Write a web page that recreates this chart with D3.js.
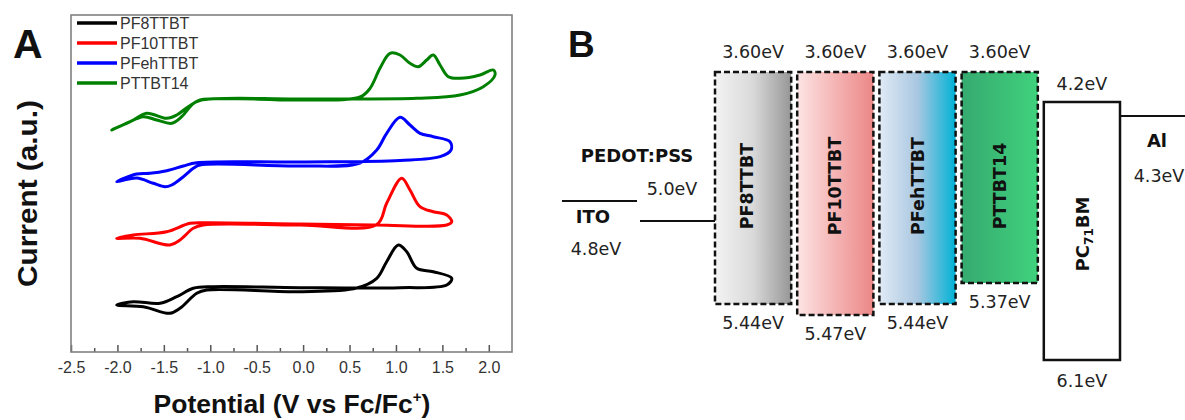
<!DOCTYPE html>
<html><head><meta charset="utf-8">
<script src="https://cdn.jsdelivr.net/npm/d3@7"></script>
<style>body{margin:0;background:#fff}svg{display:block}</style>
</head><body><svg id="c" width="1185" height="420"></svg>
<script>
// ================= Panel A data (cyclic voltammograms) =================
const seriesNames  = ["PF8TTBT", "PF10TTBT", "PFehTTBT", "PTTBT14"];
const seriesColors = ["#000000", "#ff0000", "#0000ff", "#008000"];
const xTickValues  = [-2.5, -2.0, -1.5, -1.0, -0.5, 0.0, 0.5, 1.0, 1.5, 2.0];
const xMinorTicks  = [-2.25, -1.75, -1.25, -0.75, -0.25, 0.25, 0.75, 1.25, 1.75];

// potential (V vs Fc/Fc+) and current (a.u., offset per curve)
const pf8Potential = [-2.008,-1.721,-1.434,-1.326,-1.146,-1.038,-0.033,0.577,0.793,0.900,1.025,1.116,1.224,1.402,1.601,1.547,1.044,-0.033,-0.967,-1.183,-1.361,-1.541,-1.829];
const pf8Current   = [47,45.3,38.7,43.7,58.7,62,60.3,64,73.7,90.3,107,100.3,83.7,80.3,73.7,67,64.3,64.3,65.3,63.7,55.3,48.7,50.3];

const pf10Potential = [-2.008,-1.757,-1.434,-1.326,-1.183,-1.075,-0.033,0.793,0.900,1.062,1.151,1.259,1.402,1.547,1.601,1.547,0.793,-0.033,-1.038,-1.218,-1.469,-1.829];
const pf10Current   = [113.7,113.7,107,112,123.7,127,127,127.5,148.7,173.7,162,145.3,140.3,137,130.3,127,127,128,129.3,128.7,120.3,117];

const pfehPotential = [-2.008,-1.792,-1.614,-1.488,-1.415,-1.290,-1.183,-1.111,-0.033,0.613,0.793,0.900,1.044,1.151,1.259,1.402,1.582,1.593,1.475,1.044,-0.033,-1.146,-1.290,-1.469,-1.649,-1.792];
const pfehCurrent   = [170.3,174,168.7,165.3,167,175.3,183.7,187,186,189,202,218.7,234.7,227,218.7,215.3,210.3,202,195.3,191.5,190,189.3,186,181.3,178.7,178];

const ptPotential = [-2.062,-1.900,-1.721,-1.577,-1.415,-1.308,-1.200,-1.111,-0.033,0.613,0.721,0.828,0.936,1.044,1.151,1.241,1.331,1.402,1.475,1.564,1.690,1.905,2.049,2.067,1.941,1.690,1.224,-0.033,-1.111,-1.237,-1.361,-1.469,-1.685,-1.829];
const ptCurrent   = [222,228.7,235.3,232,228.7,235.3,247,252,252,255,263.7,283.7,298.7,297,288.7,285.3,292,297,287,275.3,273.7,277,282,277,265.3,257,253.7,253,251.5,245.3,237,233.7,238.7,232];

// ================= Panel B data (energy levels, eV) =================
const bandNames   = ["PF8TTBT", "PF10TTBT", "PFehTTBT", "PTTBT14", "PC71BM"];
const lumoLevels  = [3.60, 3.60, 3.60, 3.60, 4.2];
const homoLevels  = [5.44, 5.47, 5.44, 5.37, 6.1];
const electrodeNames  = ["ITO", "PEDOT:PSS", "Al"];
const electrodeLevels = [4.8, 5.0, 4.3];
const gradientStops = [
  ["#f3f3f3", "#d9d9d9", "#979797"],
  ["#fde4e4", "#f5b4b4", "#ec8787"],
  ["#e0eaf5", "#a9c7e1", "#00b2d6"],
  ["#36aa70", "#3bbd76", "#40d27d"]
];

// ================= Drawing =================
const svg = d3.select("#c");
svg.append("rect").attr("width",1185).attr("height",420).attr("fill","#fff");

// ---------- Panel A ----------
const x = d3.scaleLinear().domain([-2.5, 2.25]).range([71, 512]);
const y = d3.scaleLinear().domain([0, 337]).range([352, 15]);
const A = svg.append("g");
const sans = "'Liberation Sans', Arial, sans-serif";

const series = [
  [pf8Potential, pf8Current],
  [pf10Potential, pf10Current],
  [pfehPotential, pfehCurrent],
  [ptPotential, ptCurrent]
];
const line = d3.line().x(d => x(d[0])).y(d => y(d[1])).curve(d3.curveCatmullRomClosed.alpha(0.5));
series.forEach((s, i) => {
  const pts = s[0].map((v, k) => [v, s[1][k]]);
  A.append("path").attr("d", line(pts)).attr("fill","none")
    .attr("stroke", seriesColors[i]).attr("stroke-width", 3)
    .attr("stroke-linejoin","round");
});

// axes
const xAxis = d3.axisBottom(x).tickValues(xTickValues).tickSizeInner(-7).tickSizeOuter(0)
  .tickPadding(10).tickFormat(d => d.toFixed(1));
const gx = A.append("g").attr("transform","translate(0,352)").call(xAxis);
gx.select(".domain").remove();
gx.selectAll(".tick line").attr("stroke","#555").attr("stroke-width",1.5);
gx.selectAll(".tick text").attr("font-family",sans).attr("font-size",16).attr("fill","#333");
const gm = A.append("g").attr("transform","translate(0,352)")
  .call(d3.axisBottom(x).tickValues(xMinorTicks).tickSizeInner(-4).tickSizeOuter(0).tickFormat(""));
gm.select(".domain").remove();
gm.selectAll(".tick line").attr("stroke","#555").attr("stroke-width",1.5);

// frame
A.append("rect").attr("x", x.range()[0]).attr("y", y.range()[1])
  .attr("width", x.range()[1]-x.range()[0]).attr("height", y.range()[0]-y.range()[1])
  .attr("fill","none").attr("stroke","#808080").attr("stroke-width",1.6);

// legend
const lg = A.append("g");
seriesNames.forEach((n, i) => {
  const yy = 23 + i*20;
  lg.append("line").attr("x1",77).attr("x2",117).attr("y1",yy).attr("y2",yy)
    .attr("stroke",seriesColors[i]).attr("stroke-width",3.5);
  lg.append("text").attr("x",120).attr("y",yy+5.5).text(n)
    .attr("font-family",sans).attr("font-size",16).attr("fill","#333");
});

// axis titles
const xt = A.append("text").attr("x",292).attr("y",413).attr("text-anchor","middle")
  .attr("font-family",sans).attr("font-weight","bold").attr("font-size",26.5).attr("fill","#111");
xt.append("tspan").text("Potential (V vs Fc/Fc");
xt.append("tspan").text("+").attr("font-size",15).attr("dy",-11);
xt.append("tspan").text(")").attr("dy",11);
A.append("text").attr("transform","translate(37,193.5) rotate(-90)").attr("text-anchor","middle")
  .attr("font-family",sans).attr("font-weight","bold").attr("font-size",27).attr("fill","#111")
  .attr("textLength",187).attr("lengthAdjust","spacingAndGlyphs")
  .text("Current (a.u.)");
A.append("text").attr("x",13).attr("y",58).text("A")
  .attr("font-family",sans).attr("font-weight","bold").attr("font-size",41).attr("fill","#111");

// ---------- Panel B ----------
const B = svg.append("g");
const dj = "'DejaVu Sans', sans-serif";
const E = d3.scaleLinear()
  .domain([3.6, 4.2, 4.3, 4.8, 5.0, 5.37, 5.44, 5.47, 6.1])
  .range([72, 102, 116, 201, 221, 283, 304, 315, 360]);
const bx = d3.scaleBand().domain(bandNames).range([715, 1120]).paddingInner(0.073).paddingOuter(0);

const defs = svg.append("defs");
gradientStops.forEach((st, i) => {
  const g = defs.append("linearGradient").attr("id","grad"+i)
    .attr("x1","0%").attr("x2","100%").attr("y1","0%").attr("y2","0%");
  st.forEach((c, k) => g.append("stop").attr("offset", (k/(st.length-1)*100)+"%").attr("stop-color", c));
});

const numFmt = (v, d) => v.toFixed(d) + "eV";
bandNames.forEach((n, i) => {
  const x0 = bx(n), w = bx.bandwidth(), cx = x0 + w/2;
  const top = E(lumoLevels[i]), bot = E(homoLevels[i]);
  const isPoly = i < 4;
  B.append("rect").attr("x",x0).attr("y",top).attr("width",w).attr("height",bot-top)
    .attr("fill", isPoly ? "url(#grad"+i+")" : "#fff")
    .attr("stroke","#111").attr("stroke-width", 2.5)
    .attr("stroke-dasharray", isPoly ? "6,3" : null);
  if (isPoly) {
    B.append("text").attr("x",cx).attr("y",top-14).attr("text-anchor","middle")
      .attr("font-family",dj).attr("font-size",17.5).attr("fill","#222").text(numFmt(lumoLevels[i],2));
    B.append("text").attr("x",cx).attr("y",bot+25).attr("text-anchor","middle")
      .attr("font-family",dj).attr("font-size",17.5).attr("fill","#222").text(numFmt(homoLevels[i],2));
    B.append("text").attr("transform",`translate(${cx+(i===0?0:6)},186) rotate(-90)`).attr("text-anchor","middle")
      .attr("font-family",dj).attr("font-weight","bold").attr("font-size",17.5).attr("fill","#111").text(n);
  } else {
    B.append("text").attr("x",cx).attr("y",top-12).attr("text-anchor","middle")
      .attr("font-family",dj).attr("font-size",17.5).attr("fill","#222").text(numFmt(lumoLevels[i],1));
    B.append("text").attr("x",cx).attr("y",bot+27).attr("text-anchor","middle")
      .attr("font-family",dj).attr("font-size",17.5).attr("fill","#222").text(numFmt(homoLevels[i],1));
    const t = B.append("text").attr("transform",`translate(${cx+7},${(top+bot)/2+3}) rotate(-90)`).attr("text-anchor","middle")
      .attr("font-family",dj).attr("font-weight","bold").attr("font-size",18).attr("fill","#111");
    t.append("tspan").text("PC");
    t.append("tspan").text("71").attr("font-size",12).attr("dy",4);
    t.append("tspan").text("BM").attr("dy",-4);
  }
});

// electrodes
const elecX = [[562, 637], [640, bx(bandNames[0])], [bx(bandNames[4]) + bx.bandwidth(), 1185]];
electrodeNames.forEach((n, i) => {
  const yy = E(electrodeLevels[i]);
  B.append("line").attr("x1",elecX[i][0]).attr("x2",elecX[i][1]).attr("y1",yy).attr("y2",yy)
    .attr("stroke","#111").attr("stroke-width",2.2);
});
const itoY = E(electrodeLevels[0]), pedY = E(electrodeLevels[1]), alY = E(electrodeLevels[2]);
B.append("text").attr("x",593).attr("y",itoY+22).attr("text-anchor","middle")
  .attr("font-family",dj).attr("font-weight","bold").attr("font-size",18).attr("fill","#111").text(electrodeNames[0]);
B.append("text").attr("x",596).attr("y",itoY+54).attr("text-anchor","middle")
  .attr("font-family",dj).attr("font-size",17.5).attr("fill","#222").text(numFmt(electrodeLevels[0],1));
B.append("text").attr("x",637).attr("y",pedY-59).attr("text-anchor","middle")
  .attr("font-family",dj).attr("font-weight","bold").attr("font-size",18).attr("fill","#111").text(electrodeNames[1]);
B.append("text").attr("x",672).attr("y",pedY-26).attr("text-anchor","middle")
  .attr("font-family",dj).attr("font-size",17.5).attr("fill","#222").text(numFmt(electrodeLevels[1],1));
B.append("text").attr("x",1157).attr("y",alY+31).attr("text-anchor","middle")
  .attr("font-family",dj).attr("font-weight","bold").attr("font-size",18).attr("fill","#111").text(electrodeNames[2]);
B.append("text").attr("x",1159).attr("y",alY+66).attr("text-anchor","middle")
  .attr("font-family",dj).attr("font-size",17.5).attr("fill","#222").text(numFmt(electrodeLevels[2],1));

B.append("text").attr("x",568).attr("y",57).text("B")
  .attr("font-family",sans).attr("font-weight","bold").attr("font-size",37).attr("fill","#111");
</script></body></html>
